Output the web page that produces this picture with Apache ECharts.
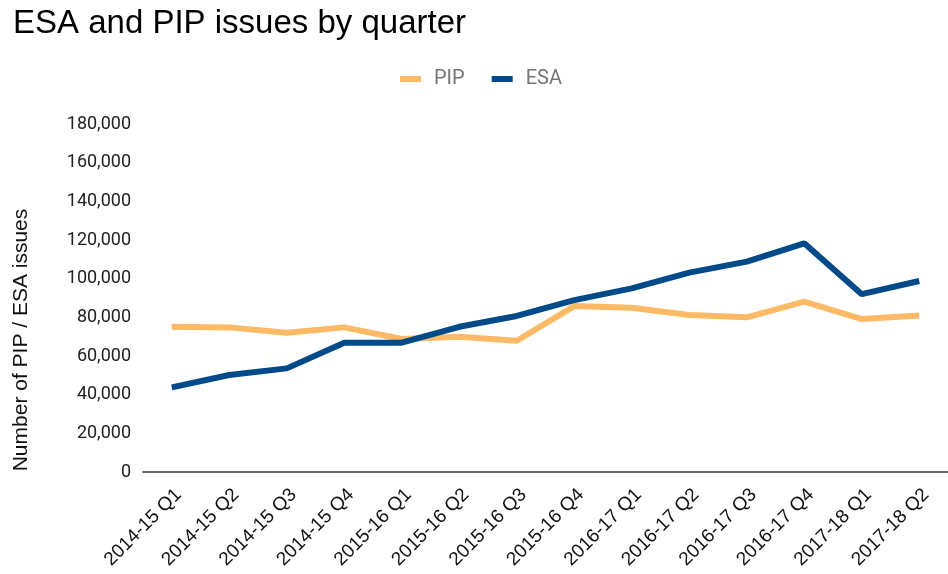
<!DOCTYPE html>
<html>
<head>
<meta charset="utf-8">
<script src="https://cdn.jsdelivr.net/npm/echarts@6/dist/echarts.min.js"></script>
<style>
  html, body { margin: 0; padding: 0; background: #ffffff; }
  #chart { width: 948px; height: 574px; }
</style>
</head>
<body>
<div id="chart"></div>
<script>
// Quarterly issue counts
const quarters = [
  '2014-15 Q1', '2014-15 Q2', '2014-15 Q3', '2014-15 Q4',
  '2015-16 Q1', '2015-16 Q2', '2015-16 Q3', '2015-16 Q4',
  '2016-17 Q1', '2016-17 Q2', '2016-17 Q3', '2016-17 Q4',
  '2017-18 Q1', '2017-18 Q2'
];
const pipIssues = [75100, 74800, 72000, 74800, 68800, 69900, 67900, 85800, 85000, 81200, 80000, 88100, 79100, 81000];
const esaIssues = [43800, 50200, 53600, 66900, 66900, 75100, 80700, 88900, 95000, 103100, 108800, 118300, 92000, 98800];
const yTicks = { min: 0, max: 180000, step: 20000 };
const yTitle = 'Number of PIP / ESA issues';

const chart = echarts.init(document.getElementById('chart'));

chart.setOption({
  animation: false,
  backgroundColor: '#ffffff',
  title: {
    text: 'ESA and PIP issues by quarter',
    left: 8,
    top: 2,
    textStyle: {
      fontFamily: 'Liberation Sans, Arial, sans-serif',
      fontSize: 33,
      fontWeight: 'normal',
      color: '#000000'
    }
  },
  legend: {
    data: ['PIP', 'ESA'],
    left: 395,
    top: 64,
    itemWidth: 21,
    itemHeight: 6,
    itemGap: 27,
    icon: 'rect',
    textStyle: {
      fontFamily: 'Roboto, sans-serif',
      fontSize: 20,
      color: '#757575',
      padding: [0, 0, 0, 8]
    }
  },
  // Vertical y-axis title, placed in the left margin
  graphic: [{
    type: 'text',
    x: 21,
    y: 340,
    rotation: Math.PI / 2,
    style: {
      text: yTitle,
      fontFamily: 'Liberation Sans, Arial, sans-serif',
      fontSize: 21,
      fill: '#111111',
      textAlign: 'center',
      textVerticalAlign: 'middle'
    }
  }],
  grid: {
    left: 143,
    top: 124,
    width: 815,
    bottom: 102,
    containLabel: false
  },
  xAxis: {
    type: 'category',
    data: quarters,
    boundaryGap: true,
    axisLine: { lineStyle: { color: '#333333', width: 1.5 } },
    axisTick: { show: false },
    axisLabel: {
      rotate: 45,
      interval: 0,
      margin: 13,
      verticalAlign: 'top',
      fontFamily: 'Liberation Sans, Arial, sans-serif',
      fontSize: 19,
      color: '#111111'
    }
  },
  yAxis: {
    type: 'value',
    min: yTicks.min,
    max: yTicks.max,
    interval: yTicks.step,
    splitLine: { show: false },
    axisLine: { show: false },
    axisTick: { show: false },
    axisLabel: {
      margin: 12,
      fontFamily: 'Roboto, sans-serif',
      fontSize: 18,
      color: '#222222',
      formatter: v => v.toLocaleString('en-US')
    }
  },
  series: [
    {
      name: 'PIP',
      type: 'line',
      data: pipIssues,
      symbol: 'none',
      color: '#FDBA66',
      lineStyle: { width: 6, color: '#FDBA66' },
      z: 2
    },
    {
      name: 'ESA',
      type: 'line',
      data: esaIssues,
      symbol: 'none',
      color: '#004A8A',
      lineStyle: { width: 6, color: '#004A8A' },
      z: 3
    }
  ]
});
</script>
</body>
</html>
